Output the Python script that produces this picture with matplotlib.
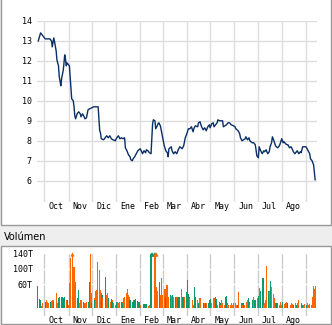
import pandas as pd
import matplotlib
matplotlib.use("Agg")
import matplotlib.pyplot as plt
from matplotlib.patches import Rectangle

# closing price
price_dates = [
    "2023-09-23", "2023-09-26", "2023-09-29", "2023-10-02", "2023-10-04", "2023-10-08",
    "2023-10-10", "2023-10-11", "2023-10-13", "2023-10-14", "2023-10-16", "2023-10-17",
    "2023-10-19", "2023-10-20", "2023-10-21", "2023-10-22", "2023-10-23", "2023-10-25",
    "2023-10-26", "2023-10-27", "2023-10-28", "2023-10-29", "2023-10-30", "2023-11-01",
    "2023-11-02", "2023-11-03", "2023-11-04", "2023-11-05", "2023-11-07", "2023-11-08",
    "2023-11-09", "2023-11-10", "2023-11-12", "2023-11-14", "2023-11-16", "2023-11-17",
    "2023-11-19", "2023-11-21", "2023-11-22", "2023-11-24", "2023-11-26", "2023-11-28",
    "2023-12-01", "2023-12-03", "2023-12-05", "2023-12-07", "2023-12-09", "2023-12-10",
    "2023-12-11", "2023-12-12", "2023-12-13", "2023-12-16", "2023-12-18", "2023-12-20",
    "2023-12-22", "2023-12-24", "2023-12-26", "2023-12-28", "2023-12-31", "2024-01-02",
    "2024-01-04", "2024-01-06", "2024-01-08", "2024-01-10", "2024-01-12", "2024-01-13",
    "2024-01-15", "2024-01-17", "2024-01-19", "2024-01-20", "2024-01-22", "2024-01-23",
    "2024-01-25", "2024-01-27", "2024-01-29", "2024-02-01", "2024-02-03", "2024-02-04",
    "2024-02-06", "2024-02-08", "2024-02-09", "2024-02-11", "2024-02-13", "2024-02-15",
    "2024-02-16", "2024-02-17", "2024-02-18", "2024-02-20", "2024-02-21", "2024-02-23",
    "2024-02-24", "2024-02-25", "2024-02-27", "2024-02-28", "2024-03-01", "2024-03-03",
    "2024-03-05", "2024-03-07", "2024-03-08", "2024-03-09", "2024-03-12", "2024-03-13",
    "2024-03-15", "2024-03-17", "2024-03-19", "2024-03-21", "2024-03-23", "2024-03-26",
    "2024-03-28", "2024-03-30", "2024-04-01", "2024-04-03", "2024-04-05", "2024-04-07",
    "2024-04-09", "2024-04-10", "2024-04-12", "2024-04-15", "2024-04-16", "2024-04-18",
    "2024-04-20", "2024-04-22", "2024-04-24", "2024-04-26", "2024-04-28", "2024-04-30",
    "2024-05-01", "2024-05-03", "2024-05-05", "2024-05-06", "2024-05-08", "2024-05-10",
    "2024-05-11", "2024-05-13", "2024-05-15", "2024-05-17", "2024-05-18", "2024-05-20",
    "2024-05-22", "2024-05-24", "2024-05-26", "2024-05-28", "2024-05-31", "2024-06-02",
    "2024-06-03", "2024-06-06", "2024-06-08", "2024-06-09", "2024-06-11", "2024-06-13",
    "2024-06-15", "2024-06-16", "2024-06-18", "2024-06-20", "2024-06-21", "2024-06-24",
    "2024-06-26", "2024-06-28", "2024-06-29", "2024-06-30", "2024-07-02", "2024-07-03",
    "2024-07-05", "2024-07-07", "2024-07-09", "2024-07-10", "2024-07-12", "2024-07-14",
    "2024-07-16", "2024-07-17", "2024-07-19", "2024-07-20", "2024-07-22", "2024-07-24",
    "2024-07-25", "2024-07-27", "2024-07-29", "2024-07-30", "2024-08-01", "2024-08-03",
    "2024-08-04", "2024-08-06", "2024-08-08", "2024-08-09", "2024-08-11", "2024-08-13",
    "2024-08-15", "2024-08-16", "2024-08-18", "2024-08-20", "2024-08-21", "2024-08-23",
    "2024-08-25", "2024-08-26", "2024-08-28", "2024-08-30", "2024-09-01", "2024-09-02",
    "2024-09-04", "2024-09-06", "2024-09-07", "2024-09-09", "2024-09-11", "2024-09-12",
    "2024-09-13",
]
price_values = [
    13.0, 13.4, 13.25, 13.1, 13.1, 13.1, 13.0, 12.7, 13.15, 12.95, 12.5, 12.05,
    11.75, 11.2, 11.0, 10.75, 11.1, 11.5, 11.85, 12.3, 12.1, 11.75, 11.9, 11.8,
    11.75, 11.2, 10.7, 10.1, 10.0, 9.7, 9.25, 9.1, 9.35, 9.45, 9.35, 9.2,
    9.35, 9.2, 9.1, 9.15, 9.55, 9.6, 9.65, 9.7, 9.7, 9.7, 9.7, 9.1,
    8.5, 8.4, 8.1, 8.05, 8.15, 8.25, 8.15, 8.25, 8.1, 8.05, 8.0, 8.15,
    8.25, 8.1, 8.15, 8.1, 8.15, 7.65, 7.5, 7.3, 7.2, 7.05, 7.0, 7.1,
    7.2, 7.35, 7.5, 7.6, 7.45, 7.35, 7.5, 7.4, 7.55, 7.5, 7.4, 7.35,
    8.05, 8.85, 9.05, 9.0, 8.6, 8.75, 8.85, 8.9, 8.75, 8.55, 8.15, 7.75,
    7.5, 7.4, 7.2, 7.6, 7.7, 7.5, 7.35, 7.45, 7.35, 7.55, 7.7, 7.6,
    7.75, 8.15, 8.35, 8.6, 8.6, 8.7, 8.45, 8.6, 8.75, 8.7, 8.9, 8.95,
    8.7, 8.55, 8.65, 8.5, 8.7, 8.8, 8.65, 8.85, 8.9, 8.7, 8.8, 8.9,
    9.05, 9.0, 9.0, 9.0, 8.7, 8.75, 8.8, 8.9, 8.9, 8.8, 8.75, 8.7,
    8.6, 8.5, 8.35, 8.15, 8.0, 8.05, 8.1, 8.2, 8.05, 8.15, 8.0, 7.9,
    7.9, 7.8, 7.55, 7.25, 7.15, 7.7, 7.5, 7.35, 7.5, 7.45, 7.55, 7.35,
    7.45, 7.7, 7.9, 8.2, 8.0, 7.75, 7.7, 7.65, 7.75, 7.85, 8.1, 7.9,
    7.95, 7.85, 7.8, 7.8, 7.65, 7.7, 7.55, 7.45, 7.35, 7.45, 7.5, 7.35,
    7.45, 7.4, 7.7, 7.7, 7.7, 7.65, 7.5, 7.35, 7.1, 7.0, 6.8, 6.45,
    6.05,
]

# daily volume (thousands) per month, g = up day, o = down day
vol_sep23 = [56, 21, 20, 4, 7, 11]
col_sep23 = "gggoo o"
vol_oct = [15, 15, 19, 15, 11, 15, 17, 15, 19, 15, 17, 38, 11, 24, 28, 27, 28, 21, 24, 28, 19, 19]
col_oct = "ogooo gooog ooogg ggogg og"
vol_nov = [6, 63, 127, 150, 63, 106, 63, 67, 24, 45, 11, 15, 19, 15, 11, 11, 11, 15, 15, 67, 140, 37]
col_nov = "ooooo ooogg ogogo ooogg oo"
vol_dic = [11, 24, 19, 42, 45, 119, 97, 45, 37, 32, 24, 15, 78, 32, 37, 24, 15, 21, 19, 15, 11]
col_dic = "gogoo oooog oogoo gogog o"
vol_ene = [6, 15, 15, 11, 15, 15, 15, 11, 24, 28, 37, 48, 32, 28, 19, 15, 19, 17, 19, 21, 17, 15, 13]
col_ene = "ogooo gogoo oooog goggg ggg"
vol_feb = [6, 6, 8, 8, 0, 8, 10, 4, 6, 8, 150, 150, 150, 150, 150, 54, 43, 67, 32, 63, 76]
col_feb = "ooggo ggoog gggoo oogoo o"
vol_mar = [32, 47, 28, 58, 58, 28, 32, 30, 11, 32, 28, 26, 28, 26, 28, 28, 48, 26, 24, 26, 28]
col_mar = "oogoo ogoog ogogo goggg o"
vol_abr = [41, 71, 35, 28, 24, 19, 6, 0, 52, 28, 19, 11, 15, 24, 15, 0, 11, 11, 11, 11, 11, 19]
col_abr = "ggggo ooogg ogooo ogogo gg"
vol_may = [21, 19, 11, 24, 19, 28, 21, 6, 15, 11, 6, 19, 11, 6, 28, 30, 11, 6, 6, 6, 11, 6, 11]
col_may = "ggooo ggogg oooog ggoog ooo"
vol_jun = [11, 6, 6, 11, 41, 6, 11, 6, 11, 6, 15, 19, 24, 15, 6, 19, 11, 28, 19, 19]
col_jun = "oogoo ogogo ooggo ggogg"
vol_jul = [24, 30, 35, 50, 44, 77, 6, 11, 19, 107, 44, 44, 44, 69, 52, 35, 24, 11, 11, 11, 6, 11, 15]
col_jul = "ogoog goooo googo oogog ogo"
vol_ago = [6, 15, 8, 11, 15, 6, 11, 6, 6, 11, 8, 6, 11, 6, 6, 11, 19, 6, 11, 6, 6, 8]
col_ago = "ogooo oggoo ogogo ooogg oo"
vol_sep24 = [6, 11, 6, 6, 8, 6, 28, 56, 47, 56]
col_sep24 = "goooo ooooo"

month_labels = ["Oct", "Nov", "Dic", "Ene", "Feb", "Mar", "Abr", "May", "Jun", "Jul", "Ago"]
vol_ticks = [60, 100, 140]
vol_ticklabels = ["60T", "100T", "140T"]

UP, DOWN, LINE = "#0b9a6c", "#ff6600", "#0a2f66"
GRID = "#dddddd"
W, H = 332, 325
MONO = "DejaVu Sans Mono"

# volume bars on business days, month by month
months = [
    ("2023-09-22", "2023-09-30", vol_sep23, col_sep23),
    ("2023-10-01", "2023-10-31", vol_oct, col_oct),
    ("2023-11-01", "2023-11-30", vol_nov, col_nov),
    ("2023-12-01", "2023-12-31", vol_dic, col_dic),
    ("2024-01-01", "2024-01-31", vol_ene, col_ene),
    ("2024-02-01", "2024-02-29", vol_feb, col_feb),
    ("2024-03-01", "2024-03-31", vol_mar, col_mar),
    ("2024-04-01", "2024-04-30", vol_abr, col_abr),
    ("2024-05-01", "2024-05-31", vol_may, col_may),
    ("2024-06-01", "2024-06-30", vol_jun, col_jun),
    ("2024-07-01", "2024-07-31", vol_jul, col_jul),
    ("2024-08-01", "2024-08-31", vol_ago, col_ago),
    ("2024-09-01", "2024-09-13", vol_sep24, col_sep24),
]
bar_x, bar_v, bar_c = [], [], []
for start, end, vals, cols in months:
    days = pd.bdate_range(start, end)
    cols = cols.replace(" ", "")
    for d, v, c in zip(days, vals, cols):
        bar_x.append(d)
        bar_v.append(v)
        bar_c.append(UP if c == "g" else DOWN)

month_starts = pd.date_range("2023-10-01", "2024-09-01", freq="MS")
month_mids = month_starts[:-1] + pd.Timedelta(days=15)
x0, x1 = pd.Timestamp("2023-09-21"), pd.Timestamp("2024-09-15")

fig = plt.figure(figsize=(W / 100, H / 100), dpi=100, facecolor="#eeeeee")

# white panel boxes, kept under the axes (top box runs off the top edge)
fig.patches.append(Rectangle((0.7 / W, 1 - 225 / H), 330.6 / W, 1.0, transform=fig.transFigure,
                             facecolor="white", edgecolor="#999999", lw=1.0, zorder=-10))
fig.patches.append(Rectangle((0.7 / W, 1 - 323.8 / H), 330.6 / W, 77.8 / H, transform=fig.transFigure,
                             facecolor="white", edgecolor="#999999", lw=1.0, zorder=-10))
fig.text(4 / W, 1 - 237.5 / H, "Volúmen", fontsize=7, va="center", ha="left", family="DejaVu Sans")

# price panel
ax = fig.add_axes([36.7 / W, 1 - 201.7 / H, 280 / W, 181.2 / H])
ax.set_facecolor("none")
ax.plot(pd.to_datetime(price_dates), price_values, color=LINE, lw=1.0, zorder=3)
ax.set_xlim(x0, x1)
ax.set_ylim(4.95, 14.02)
ax.set_yticks(range(6, 15))
ax.set_xticks(month_starts)
ax.set_xticklabels([])
ax.set_xticks(month_mids, minor=True)
ax.set_xticklabels(month_labels, minor=True)
ax.grid(True, color=GRID, lw=1.0)
ax.set_axisbelow(True)
ax.tick_params(axis="both", which="both", length=0, labelsize=6)
ax.tick_params(axis="y", pad=3.5)
ax.tick_params(axis="x", which="minor", pad=0.5)
for s in ax.spines.values():
    s.set_visible(False)

# volume panel
vtop = 141.2
av = fig.add_axes([36.7 / W, 1 - 315.5 / H, 280 / W, 62.5 / H])
av.set_facecolor("none")
for m in month_starts:
    av.axvline(m, color="#cccccc", lw=1.0, zorder=0.5)
for t in vol_ticks:
    av.axhline(t, color="white", lw=1.0, zorder=0.6)
shown = [min(v, 139.5) for v in bar_v]
av.bar(bar_x, shown, width=1.4, color=bar_c, lw=0, zorder=2, antialiased=False)
for d, v, c in zip(bar_x, bar_v, bar_c):
    if v > vtop:
        av.plot([d], [139.5], marker="^", ms=3, color=c, mew=0, clip_on=False, zorder=3)
av.set_xlim(x0, x1)
av.set_ylim(-20.7, vtop)
av.set_yticks(vol_ticks)
av.set_yticklabels(vol_ticklabels)
av.set_xticks(month_mids)
av.set_xticklabels(month_labels)
av.tick_params(axis="both", length=0, labelsize=6)
av.tick_params(axis="y", pad=3.0)
av.tick_params(axis="x", pad=0.5)
for s in av.spines.values():
    s.set_visible(False)

for a in (ax, av):
    for lab in a.get_xticklabels(minor=True) + a.get_xticklabels() + a.get_yticklabels():
        lab.set_family(MONO)

fig.savefig("out.png", dpi=100, facecolor=fig.get_facecolor())
